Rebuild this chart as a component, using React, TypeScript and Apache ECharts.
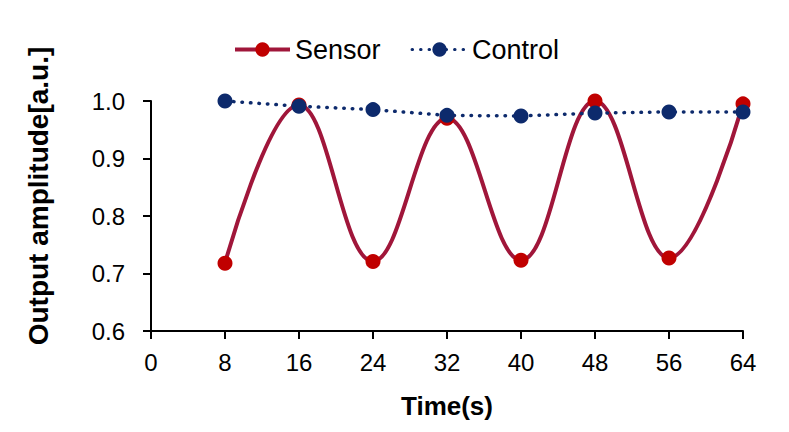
import React, { useEffect, useRef } from "react";
import * as echarts from "echarts";

const times = [8, 16, 24, 32, 40, 48, 56, 64];
const sensorValues = [0.718, 0.993, 0.721, 0.97, 0.723, 1.0, 0.727, 0.995];
const controlValues = [1.0, 0.991, 0.985, 0.975, 0.974, 0.979, 0.981, 0.981];
const seriesNames = ["Sensor", "Control"];
const xAxisTitle = "Time(s)";
const yAxisTitle = "Output amplitude[a.u.]";

const FONT = "'Liberation Sans', Arial, sans-serif";

export default function App() {
  const ref = useRef<HTMLDivElement>(null);

  useEffect(() => {
    if (!ref.current) return;
    const chart = echarts.init(ref.current, null, { renderer: "svg" });
    const sensorData = times.map((t, i) => [t, sensorValues[i]]);
    const controlData = times.map((t, i) => [t, controlValues[i]]);
    chart.setOption({
      animation: false,
      backgroundColor: "#ffffff",
      textStyle: { fontFamily: FONT },
      legend: {
        data: [
          { name: seriesNames[0], lineStyle: { width: 4 } },
          { name: seriesNames[1], lineStyle: { width: 3 } },
        ],
        left: 233,
        top: 36,
        padding: 0,
        itemWidth: 55,
        itemHeight: 18,
        itemGap: 30,
        textStyle: { fontSize: 27, color: "#000", fontFamily: FONT },
      },
      grid: { left: 151, right: 46, top: 101, bottom: 101 },
      xAxis: {
        type: "value",
        min: 0,
        max: 64,
        interval: 8,
        name: xAxisTitle,
        nameLocation: "middle",
        nameGap: 62,
        nameTextStyle: { fontSize: 26, fontWeight: "bold", color: "#000", fontFamily: FONT },
        axisLine: { show: true, lineStyle: { color: "#000", width: 2 } },
        axisTick: { show: true, inside: false, length: 8, lineStyle: { color: "#000", width: 2 } },
        axisLabel: { fontSize: 24, color: "#000", margin: 19, fontFamily: FONT },
        splitLine: { show: false },
      },
      yAxis: {
        type: "value",
        min: 0.6,
        max: 1.0,
        interval: 0.1,
        name: yAxisTitle,
        nameLocation: "middle",
        nameGap: 99,
        nameTextStyle: {
          fontSize: 28,
          fontWeight: "bold",
          color: "#000",
          fontFamily: FONT,
          padding: [0, 0, 0, 40],
        },
        axisLine: { show: true, lineStyle: { color: "#000", width: 2 } },
        axisTick: { show: true, inside: false, length: 8, lineStyle: { color: "#000", width: 2 } },
        axisLabel: {
          fontSize: 24,
          color: "#000",
          margin: 26,
          fontFamily: FONT,
          formatter: (v: number) => v.toFixed(1),
        },
        splitLine: { show: false },
      },
      series: [
        {
          name: seriesNames[0],
          type: "line",
          data: sensorData,
          smooth: 0.4,
          symbol: "circle",
          symbolSize: 15,
          itemStyle: { color: "#c00000" },
          lineStyle: { color: "#a0163a", width: 4 },
        },
        {
          name: seriesNames[1],
          type: "line",
          data: controlData,
          symbol: "circle",
          symbolSize: 15,
          itemStyle: { color: "#0d2a6c" },
          lineStyle: { color: "#0d2a6c", width: 3.5, type: [0.5, 8], cap: "round" },
        },
      ],
    });
    return () => chart.dispose();
  }, []);

  return (
    <div
      ref={ref}
      style={{ position: "fixed", left: 0, top: 0, width: 789, height: 432 }}
    />
  );
}
